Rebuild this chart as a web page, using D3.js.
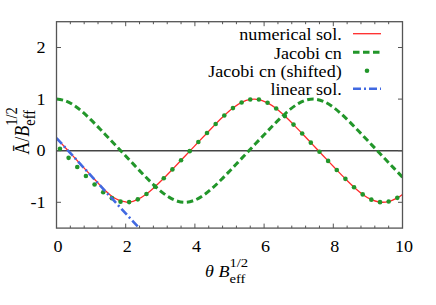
<!DOCTYPE html>
<html><head><meta charset="utf-8">
<script src="https://cdn.jsdelivr.net/npm/d3@7"></script>
<style>body{margin:0;background:#fff}svg{display:block}</style>
</head><body>
<svg id="c" width="436" height="305"></svg>
<script>
// ---- data ----
const xTicks = [0, 2, 4, 6, 8, 10];
const yTicks = [-1, 0, 1, 2];
const xMinorStep = 0.4;

// Jacobi cn, sampled every 0.25
const cnTheta = d3.range(0, 10.0001, 0.25);
const cnVals = [1.000,0.969,0.882,0.753,0.596,0.426,0.250,0.074,-0.103,-0.280,-0.455,-0.624,-0.777,-0.900,-0.979,-0.999,-0.958,-0.863,-0.728,-0.568,-0.397,-0.221,-0.044,0.133,0.309,0.484,0.650,0.800,0.917,0.986,0.997,0.946,0.843,0.702,0.540,0.368,0.191,0.015,-0.162,-0.338,-0.512];

// Jacobi cn (shifted) dots
const shTheta = d3.range(0.1, 10, 0.25);
const shVals = [0.038,-0.139,-0.315,-0.489,-0.656,-0.804,-0.920,-0.987,-0.996,-0.943,-0.839,-0.697,-0.535,-0.362,-0.185,-0.009,0.168,0.344,0.518,0.682,0.826,0.935,0.993,0.991,0.928,0.817,0.671,0.506,0.332,0.156,-0.021,-0.198,-0.374,-0.546,-0.708,-0.847,-0.949,-0.997,-0.985,-0.914];

// numerical solution
const numTheta = [0,0.25,0.5,0.75,1.0,1.2,1.4,1.6,1.8,2.0,2.1,2.35,2.6,2.85,3.1,3.35,3.6,3.85,4.1,4.35,4.6,4.85,5.1,5.35,5.6,5.85,6.1,6.35,6.6,6.85,7.1,7.35,7.6,7.85,8.1,8.35,8.6,8.85,9.1,9.35,9.6,9.85,10];
const numVals = [0.245,0.063,-0.120,-0.302,-0.483,-0.627,-0.765,-0.882,-0.958,-0.993,-0.998,-0.943,-0.839,-0.697,-0.535,-0.362,-0.185,-0.009,0.168,0.344,0.518,0.682,0.826,0.935,0.993,0.991,0.928,0.817,0.671,0.506,0.332,0.156,-0.021,-0.198,-0.374,-0.546,-0.708,-0.847,-0.949,-0.997,-0.985,-0.914,-0.847];

// linear solution
const linTheta = [0, 2.39];
const linVals = [0.245, -1.50];

const legendNames = ["numerical sol.", "Jacobi cn", "Jacobi cn (shifted)", "linear sol."];

// ---- drawing ----
const svg = d3.select("#c");
const FONT = "'Liberation Serif','Times New Roman',serif";
const SX = 1.13;
const x = d3.scaleLinear().domain([0, 10]).range([56.5, 402.5]);
const y = d3.scaleLinear().domain([-1.5, 2.5]).range([228.1, 21.7]);

const RED = "#ff2a2a", GREEN = "#22962a", BLUE = "#4169e1";

svg.append("defs").append("clipPath").attr("id", "clip")
  .append("rect").attr("x", x(0)).attr("y", y(2.5))
  .attr("width", x(10) - x(0)).attr("height", y(-1.5) - y(2.5));

function txt(px, py, anchor, size) {
  return svg.append("text")
    .attr("transform", `translate(${px},${py}) scale(${SX},1)`)
    .attr("text-anchor", anchor)
    .attr("font-family", FONT).attr("font-size", size).attr("fill", "#000");
}

// zero line
svg.append("line").attr("x1", x(0)).attr("x2", x(10)).attr("y1", y(0)).attr("y2", y(0))
  .attr("stroke", "#444").attr("stroke-width", 1.5);

// ticks
const tickG = svg.append("g").attr("stroke", "#555").attr("stroke-width", 1);
const minor = d3.range(0, 10.0001, xMinorStep).filter(v => !xTicks.some(t => Math.abs(t - v) < 1e-6));
xTicks.forEach(v => {
  tickG.append("line").attr("x1", x(v)).attr("x2", x(v)).attr("y1", y(-1.5)).attr("y2", y(-1.5) - 4.5);
  tickG.append("line").attr("x1", x(v)).attr("x2", x(v)).attr("y1", y(2.5)).attr("y2", y(2.5) + 4.5);
});
minor.forEach(v => {
  tickG.append("line").attr("x1", x(v)).attr("x2", x(v)).attr("y1", y(-1.5)).attr("y2", y(-1.5) - 2.5);
  tickG.append("line").attr("x1", x(v)).attr("x2", x(v)).attr("y1", y(2.5)).attr("y2", y(2.5) + 2.5);
});
yTicks.forEach(v => {
  tickG.append("line").attr("x1", x(0)).attr("x2", x(0) + 4.5).attr("y1", y(v)).attr("y2", y(v));
  tickG.append("line").attr("x1", x(10)).attr("x2", x(10) - 4.5).attr("y1", y(v)).attr("y2", y(v));
});

// tick labels
xTicks.forEach(v => txt(x(v) + 1.5, 252, "middle", 16).text(v));
yTicks.forEach(v => txt(45.5, y(v) + 5.5, "end", 16).text(v));

// curves
const plot = svg.append("g").attr("clip-path", "url(#clip)");
const line = d3.line().x(d => x(d[0])).y(d => y(d[1])).curve(d3.curveCatmullRom.alpha(0.5));

plot.append("path").datum(numTheta.map((t, i) => [t, numVals[i]]))
  .attr("d", line).attr("fill", "none").attr("stroke", RED).attr("stroke-width", 1.3);

plot.append("path").datum(cnTheta.map((t, i) => [t, cnVals[i]]))
  .attr("d", line).attr("fill", "none").attr("stroke", GREEN).attr("stroke-width", 3)
  .attr("stroke-dasharray", "6.5,3.5");

plot.selectAll("circle.sh").data(shTheta.map((t, i) => [t, shVals[i]])).enter()
  .append("circle").attr("cx", d => x(d[0])).attr("cy", d => y(d[1])).attr("r", 2.3).attr("fill", GREEN);

plot.append("path").datum(linTheta.map((t, i) => [t, linVals[i]]))
  .attr("d", d3.line().x(d => x(d[0])).y(d => y(d[1])))
  .attr("fill", "none").attr("stroke", BLUE).attr("stroke-width", 2.6)
  .attr("stroke-dasharray", "8,3,2,3");

// frame
svg.append("rect").attr("x", x(0)).attr("y", y(2.5))
  .attr("width", x(10) - x(0)).attr("height", y(-1.5) - y(2.5))
  .attr("fill", "none").attr("stroke", "#555").attr("stroke-width", 1.3);

// legend
const legY = [33.7, 52.3, 70.7, 88.7];
const lx0 = 353, lx1 = 381;
legendNames.forEach((n, i) => txt(341.7, legY[i] + 6.2, "end", 16).text(n));
svg.append("line").attr("x1", lx0).attr("x2", lx1).attr("y1", legY[0]).attr("y2", legY[0])
  .attr("stroke", RED).attr("stroke-width", 1.3);
svg.append("line").attr("x1", lx0).attr("x2", lx1).attr("y1", legY[1]).attr("y2", legY[1])
  .attr("stroke", GREEN).attr("stroke-width", 3).attr("stroke-dasharray", "6.5,3.5");
svg.append("circle").attr("cx", (lx0 + lx1) / 2).attr("cy", legY[2]).attr("r", 2.3).attr("fill", GREEN);
svg.append("line").attr("x1", lx0).attr("x2", lx1).attr("y1", legY[3]).attr("y2", legY[3])
  .attr("stroke", BLUE).attr("stroke-width", 2.6).attr("stroke-dasharray", "8,3,2,3");

// x axis label
const xl = txt(205, 277, "start", 16);
xl.append("tspan").attr("font-style", "italic").text("θ");
xl.append("tspan").text(" ");
xl.append("tspan").attr("font-style", "italic").text("B");
const sub = xl.append("tspan").attr("font-size", 13).attr("dy", 6).text("eff");
const w = sub.node().getComputedTextLength();
xl.append("tspan").attr("font-size", 13).attr("dx", -w).attr("dy", -16).text("1/2");

// y axis label
const yl = svg.append("text")
  .attr("transform", `translate(29,131) rotate(-90) scale(1,${SX})`)
  .attr("text-anchor", "middle").attr("font-family", FONT).attr("font-size", 18);
yl.append("tspan").text("Ā/");
yl.append("tspan").attr("font-style", "italic").text("B");
const ysub = yl.append("tspan").attr("font-size", 14.5).attr("dy", 5).text("eff");
const yw = ysub.node().getComputedTextLength();
yl.append("tspan").attr("font-size", 14.5).attr("dx", -yw).attr("dy", -16).text("1/2");
</script>
</body></html>
